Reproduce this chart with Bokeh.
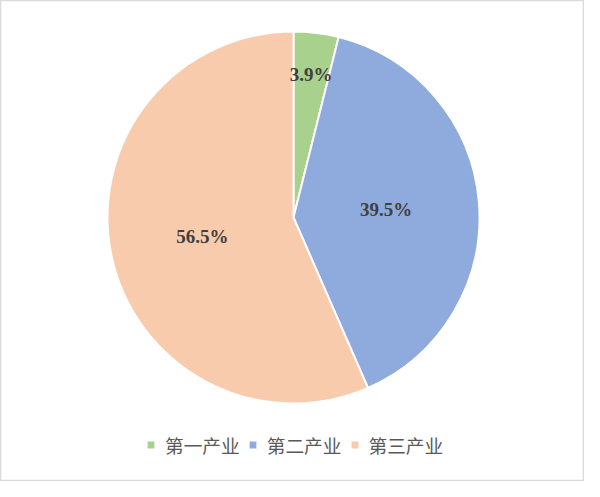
import math
from bokeh.plotting import figure
from bokeh.models import ColumnDataSource, Range1d, Legend, LegendItem
from bokeh.core.properties import value
from bokeh.embed import file_html
from bokeh.resources import INLINE

# Data
categories = ["第一产业", "第二产业", "第三产业"]
shares = [3.9, 39.5, 56.5]
colors = ["#A9D18E", "#8FAADC", "#F8CBAD"]
label_radius_factor = [0.775, 0.5, 0.5]   # layout: where each % label sits

W, H = 584, 481
cx, cy, R = 293, 264, 186

total = sum(shares)
starts, ends, lx, ly, texts = [], [], [], [], []
cum = 0.0
for v, f in zip(shares, label_radius_factor):
    a0 = math.pi / 2 - 2 * math.pi * cum / total
    cum += v
    a1 = math.pi / 2 - 2 * math.pi * cum / total
    starts.append(a0)
    ends.append(a1)
    mid = (a0 + a1) / 2
    lx.append(cx + f * R * math.cos(mid))
    ly.append(cy + f * R * math.sin(mid))
    texts.append(f"{v}%")

src = ColumnDataSource(dict(cat=categories, start=starts, end=ends, color=colors,
                            lx=lx, ly=ly, txt=texts))

p = figure(width=W, height=H, output_backend="svg", toolbar_location=None,
           x_range=Range1d(0, W), y_range=Range1d(0, H),
           x_axis_location=None, y_axis_location=None, min_border=0)
p.grid.visible = False
p.outline_line_color = "#D9D9D9"
p.outline_line_width = 1.5
p.background_fill_color = "white"

r = p.wedge(x=cx, y=cy, radius=R, start_angle="start", end_angle="end",
            direction="clock", fill_color="color", line_color="white",
            line_width=2, source=src)

p.text(x="lx", y="ly", text="txt", source=src, text_align="center",
       text_baseline="middle", text_font=value("Liberation Serif"),
       text_font_style="bold", text_font_size="19px", text_color="#404040")

items = [LegendItem(label=c, renderers=[r], index=i) for i, c in enumerate(categories)]
legend = Legend(items=items, orientation="horizontal", location=(145, 23),
                glyph_width=11, glyph_height=11, label_standoff=9, spacing=7,
                padding=0, margin=0, border_line_color=None,
                background_fill_alpha=0,
                label_text_font="Noto Sans CJK SC", label_text_font_size="18.7px",
                label_text_color="#595959")
p.add_layout(legend)

open("out.html", "w").write(file_html(p, INLINE))
